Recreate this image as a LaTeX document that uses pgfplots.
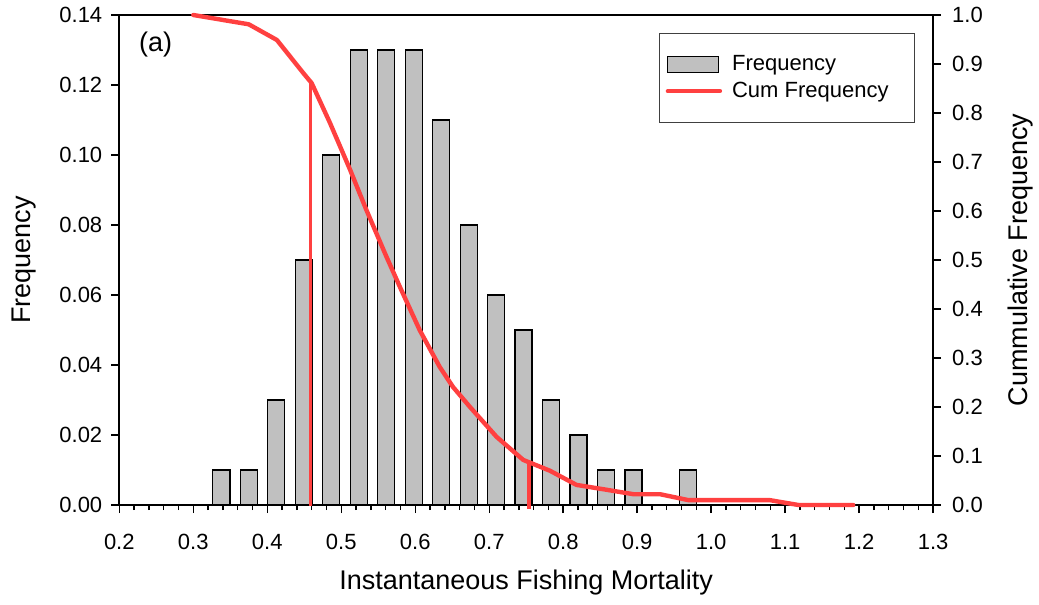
\documentclass[border=0pt]{standalone}
\usepackage{fontspec}
\setmainfont{Liberation Sans}
\usepackage{pgfplots}
\pgfplotsset{compat=1.18}
\definecolor{barfill}{RGB}{192,192,192}
\definecolor{cumred}{RGB}{255,64,64}

\begin{document}
\begin{tikzpicture}
\pgfplotsset{
  every axis/.append style={
    scale only axis, width=406.9pt, height=245pt,
    xmin=0.2, xmax=1.3,
    tick align=outside,
    /pgf/number format/assume math mode=true,
    tick label style={font=\fontsize{11}{13}\selectfont},
    label style={font=\fontsize{13.5}{16}\selectfont},
    axis line style={line width=0.8pt},
    major tick length=4pt, minor tick length=2.5pt,
    every tick/.style={black, line width=0.7pt},
  }
}
% histogram, left axis
\begin{axis}[
  ymin=0, ymax=0.14,
  xtick={0.2,0.3,0.4,0.5,0.6,0.7,0.8,0.9,1.0,1.1,1.2,1.3},
  minor x tick num=4,
  ytick={0,0.02,0.04,0.06,0.08,0.10,0.12,0.14},
  xtick pos=bottom, ytick pos=left,
  xticklabel style={yshift=-7pt, /pgf/number format/.cd, fixed, fixed zerofill, precision=1},
  yticklabel style={xshift=-1pt, /pgf/number format/.cd, fixed, fixed zerofill, precision=2},
  scaled y ticks=false,
  xlabel={Instantaneous Fishing Mortality},
  ylabel={Frequency},
  xlabel style={at={(axis description cs:0.5,-0.159)}, anchor=center},
  ylabel style={at={(axis description cs:-0.117,0.5)}, anchor=center},
]
\addplot[ybar, bar width=0.023, fill=barfill, draw=black, line width=0.6pt] coordinates {
  (0.3380,0.01) (0.3751,0.01) (0.4123,0.03) (0.4494,0.07) (0.4865,0.10)
  (0.5237,0.13) (0.5608,0.13) (0.5979,0.13) (0.6350,0.11) (0.6722,0.08)
  (0.7093,0.06) (0.7464,0.05) (0.7836,0.03) (0.8207,0.02) (0.8578,0.01)
  (0.8950,0.01) (0.9692,0.01)
};
\node[anchor=west, inner sep=0pt, font=\fontsize{13.5}{15}\selectfont] at (rel axis cs:0.024,0.939) {(a)};
\coordinate (o) at (rel axis cs:0,0);
\end{axis}
% cumulative curve, right axis
\begin{axis}[
  ymin=0, ymax=1,
  axis x line=none, axis y line*=right,
  ytick={0,0.1,0.2,0.3,0.4,0.5,0.6,0.7,0.8,0.9,1.0},
  yticklabel style={xshift=2pt, /pgf/number format/.cd, fixed, fixed zerofill, precision=1},
  ylabel={Cummulative Frequency},
  ylabel style={at={(axis description cs:1.107,0.5)}, anchor=center},
  clip=false,
  legend cell align=left,
  legend style={at={(rel axis cs:0.978,0.963)}, anchor=north east,
    draw=black!75, line width=0.6pt, font=\fontsize{11}{13}\selectfont,
    inner xsep=3pt, inner ysep=9pt, row sep=0pt,
    /tikz/every odd column/.style={column sep=3pt}},
]
\addlegendimage{legend image code/.code={\draw[fill=barfill, draw=black, line width=0.6pt] (0pt,-4pt) rectangle (25.5pt,4pt);}}
\addlegendentry{Frequency}
\addlegendimage{legend image code/.code={\draw[cumred, line width=2.2pt, line cap=round] (0pt,0pt) -- (26pt,0pt);}}
\addlegendentry{Cum Frequency\hspace*{8pt}}
\addplot[cumred, line width=2.2pt, line join=round, line cap=round, forget plot] coordinates {
  (0.300,1.000) (0.375,0.981) (0.413,0.949) (0.449,0.881) (0.460,0.861)
  (0.485,0.779) (0.512,0.684) (0.534,0.602) (0.561,0.507) (0.579,0.446)
  (0.606,0.357) (0.633,0.282) (0.651,0.241) (0.674,0.200) (0.710,0.139)
  (0.746,0.092) (0.782,0.070) (0.818,0.041) (0.859,0.031) (0.895,0.022)
  (0.931,0.022) (0.969,0.010) (1.079,0.010) (1.118,0.000) (1.192,0.000)
};
\addplot[cumred, line width=1.5pt, forget plot] coordinates {(0.459,0.861) (0.459,-0.003)};
\addplot[cumred, line width=2pt, forget plot] coordinates {(0.754,0.088) (0.754,-0.008)};
\end{axis}
\pgfresetboundingbox
\path (o) ++(-59.65pt,-50pt) rectangle ++(519.5pt,302.5pt);
\end{tikzpicture}
\end{document}
